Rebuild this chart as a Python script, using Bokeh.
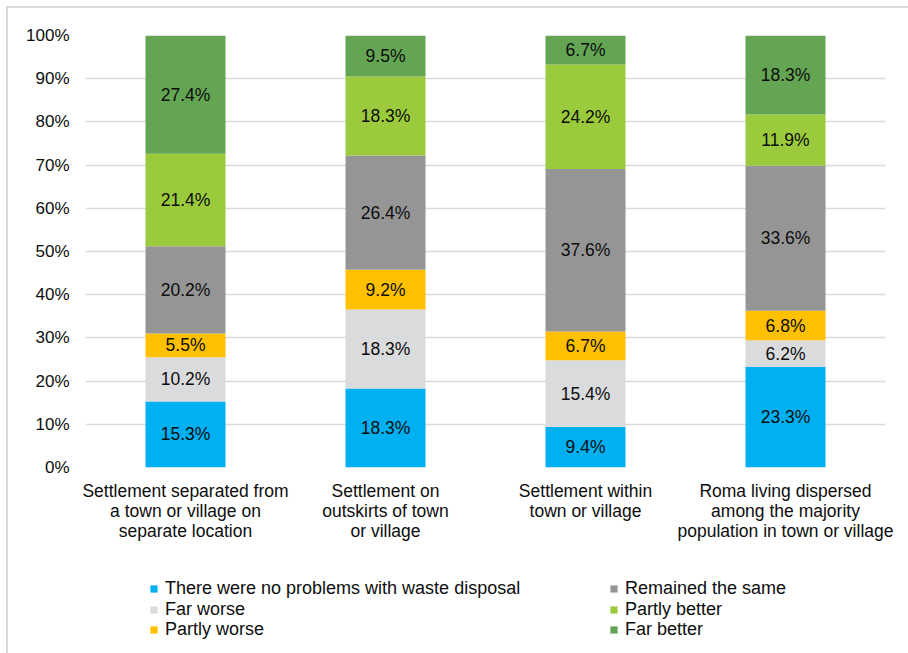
from bokeh.plotting import figure
from bokeh.layouts import column
from bokeh.models import (ColumnDataSource, FactorRange, Range1d, Legend, LegendItem,
                          FixedTicker, PrintfTickFormatter)
from bokeh.core.properties import value
from bokeh.embed import file_html
from bokeh.resources import INLINE

categories = [
    "Settlement separated from\na town or village on\nseparate location",
    "Settlement on\noutskirts of town\nor village",
    "Settlement within\ntown or village",
    "Roma living dispersed\namong the majority\npopulation in town or village",
]
series_names = [
    "There were no problems with waste disposal",
    "Far worse",
    "Partly worse",
    "Remained the same",
    "Partly better",
    "Far better",
]
no_problems = [15.3, 18.3, 9.4, 23.3]
far_worse = [10.2, 18.3, 15.4, 6.2]
partly_worse = [5.5, 9.2, 6.7, 6.8]
remained = [20.2, 26.4, 37.6, 33.6]
partly_better = [21.4, 18.3, 24.2, 11.9]
far_better = [27.4, 9.5, 6.7, 18.3]
colors = ["#00B0F0", "#DADBDD", "#FFC000", "#959595", "#9BCB3C", "#63A553"]

series = [no_problems, far_worse, partly_worse, remained, partly_better, far_better]
keys = ["s0", "s1", "s2", "s3", "s4", "s5"]
totals = [sum(s[i] for s in series) for i in range(len(categories))]

data = {"cat": categories}
for k, s in zip(keys, series):
    data[k] = [v / t * 100 for v, t in zip(s, totals)]
src = ColumnDataSource(data)

FONT = "Liberation Sans"
TXT = "#0d0d0d"

xr = FactorRange(*categories, range_padding=0)
p = figure(x_range=xr, y_range=Range1d(0, 100),
           width=900, height=562, output_backend="svg", toolbar_location=None,
           min_border_left=77, min_border_right=23, min_border_top=27, min_border_bottom=103)
p.outline_line_color = None

rs = p.vbar_stack(keys, x="cat", width=0.4, color=colors, source=src, line_width=0)

# data labels
lx, ly, lt = [], [], []
for i, c in enumerate(categories):
    base = 0
    for k, s in zip(keys, series):
        v = data[k][i]
        lx.append(c)
        ly.append(base + v / 2)
        lt.append(f"{s[i]:.1f}%")
        base += v
p.text(x=lx, y=ly, text=lt, text_align="center", text_baseline="middle",
       text_font=value(FONT), text_font_size="17.5px", text_color=TXT)

p.xgrid.grid_line_color = None
p.ygrid.grid_line_color = "#D9D9D9"
p.ygrid.grid_line_width = 1.5
p.yaxis.ticker = FixedTicker(ticks=list(range(0, 101, 10)))
p.yaxis.formatter = PrintfTickFormatter(format="%d%%")
for ax in (p.xaxis[0], p.yaxis[0]):
    ax.axis_line_color = None
    ax.major_tick_line_color = None
    ax.minor_tick_line_color = None
    ax.major_label_text_font = FONT
    ax.major_label_text_font_size = "17px"
    ax.major_label_text_color = TXT
p.yaxis.major_label_standoff = 10
p.xaxis.major_label_standoff = 7
p.xaxis.major_label_text_font_size = "17.5px"
p.xaxis.major_label_text_line_height = 1.0

# legend strip below the chart (its bars lie outside its own y range, only the legend shows)
p2 = figure(x_range=xr, y_range=Range1d(1000, 1001), width=900, height=83,
            output_backend="svg", toolbar_location=None,
            min_border_left=77, min_border_right=23, min_border_top=0, min_border_bottom=0)
p2.axis.visible = False
p2.grid.visible = False
p2.outline_line_color = None
rs2 = p2.vbar_stack(keys, x="cat", width=0.4, color=colors, source=src, line_width=0)

col_x = [64, 64, 64, 524, 524, 524]
row_y = [54, 33.5, 13, 54, 33.5, 13]
for i in range(6):
    lg = Legend(items=[LegendItem(label=series_names[i], renderers=[rs2[i]])],
                location=(col_x[i], row_y[i]), padding=0, spacing=0, margin=0,
                glyph_width=9, glyph_height=9, label_height=21, label_standoff=7,
                label_text_font=FONT, label_text_font_size="18px", label_text_color=TXT,
                background_fill_alpha=0, border_line_color=None)
    p2.add_layout(lg, "center")

layout = column(p, p2, spacing=0)
layout.styles = {"margin-left": "6px", "margin-top": "6px",
                 "border-top": "2px solid #D9D9D9", "border-left": "2px solid #D9D9D9"}

open("out.html", "w").write(file_html(layout, INLINE))
